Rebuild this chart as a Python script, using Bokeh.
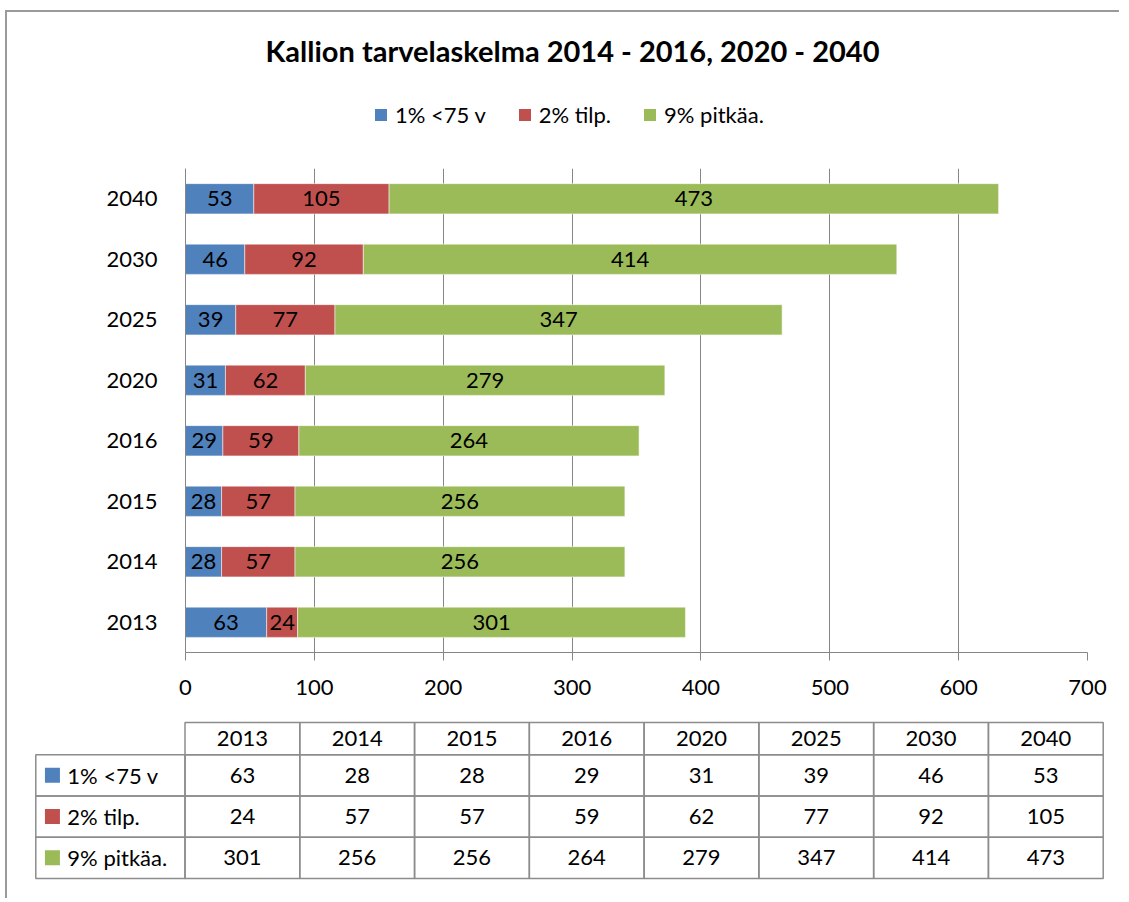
from bokeh.plotting import figure
from bokeh.models import (Range1d, FactorRange, Legend, LegendItem, ColumnDataSource, FixedTicker)
from bokeh.embed import file_html
from bokeh.resources import INLINE
from bokeh.core.properties import value
import numpy as np

# ---------------- data ----------------
years = ["2013", "2014", "2015", "2016", "2020", "2025", "2030", "2040"]
series_names = ["1% <75 v", "2% tilp.", "9% pitkäa."]
under75 = [63, 28, 28, 29, 31, 39, 46, 53]
tilp = [24, 57, 57, 59, 62, 77, 92, 105]
pitkaa = [301, 256, 256, 264, 279, 347, 414, 473]
x_ticks = [0, 100, 200, 300, 400, 500, 600, 700]
title_text = "Kallion tarvelaskelma 2014 - 2016, 2020 - 2040"

# ---------------- style ----------------
colors = ["#4F81BD", "#C0504D", "#9BBB59"]
FONT = "Lato"
GRID = "#868686"
TBL = "#8c8c8c"
BORDER = "2px solid #9a9a9a"
W = 1114

# ---------------- header: title + legend ----------------
h = figure(width=W, height=158, x_range=Range1d(0, 1), y_range=Range1d(0, 1),
           output_backend="svg", toolbar_location=None,
           x_axis_location=None, y_axis_location=None,
           min_border_left=0, min_border_right=0, min_border_top=55, min_border_bottom=0)
h.grid.visible = False
h.outline_line_color = None
h.title.text = title_text
h.title.text_font = FONT
h.title.text_font_size = "29px"
h.title.text_font_style = "bold"
h.title.text_color = "black"
h.title.align = "left"
h.title.offset = 258
h.title.standoff = 0

# legend keys (zero-length bars outside the visible range; only their style is used)
key_renderers = [h.hbar(y=[-1], left=[0], right=[0], height=0.5, fill_color=col, line_color=None)
                 for col in colors]
legend = Legend(items=[LegendItem(label=n, renderers=[r]) for n, r in zip(series_names, key_renderers)],
                orientation="horizontal", location=(366, 42), padding=0, margin=0,
                spacing=31, label_standoff=7, glyph_width=15, glyph_height=15,
                label_text_font=FONT, label_text_font_size="22px", label_text_color="black",
                border_line_color=None, background_fill_alpha=0)
h.add_layout(legend, "center")

# ---------------- chart ----------------
p = figure(width=W, height=544,
           y_range=FactorRange(factors=years, range_padding=0),
           x_range=Range1d(0, 700),
           output_backend="svg", toolbar_location=None,
           min_border_left=178, min_border_right=34,
           min_border_top=0, min_border_bottom=60)

src = ColumnDataSource(dict(year=years, a=under75, b=tilp, c=pitkaa))
rs = p.hbar_stack(["a", "b", "c"], y="year", height=0.5, source=src,
                  fill_color=colors, line_color="white", line_alpha=0.5, line_width=1)

a = np.array(under75, dtype=float)
b = np.array(tilp, dtype=float)
c = np.array(pitkaa, dtype=float)
vals = [a, b, c]
starts = [np.zeros(len(a)), a, a + b]
lab_x = np.concatenate([s + v / 2 for s, v in zip(starts, vals)])
lab_y = years * 3
lab_t = [str(int(v)) for v in np.concatenate(vals)]
p.text(x=lab_x, y=lab_y, text=lab_t, text_align="center", text_baseline="middle",
       text_font=value(FONT), text_font_size="22px", text_color="black")

p.xaxis.ticker = FixedTicker(ticks=x_ticks)
p.xaxis.axis_line_color = GRID
p.xaxis.major_tick_line_color = GRID
p.xaxis.major_tick_out = 8
p.xaxis.major_tick_in = 0
p.xaxis.minor_tick_line_color = None
p.xaxis.major_label_standoff = 19
p.yaxis.axis_line_color = GRID
p.yaxis.major_tick_line_color = None
p.yaxis.minor_tick_line_color = None
p.yaxis.major_label_standoff = 22
for ax in (p.xaxis, p.yaxis):
    ax.major_label_text_font = FONT
    ax.major_label_text_font_size = "22px"
    ax.major_label_text_color = "black"
p.xgrid.grid_line_color = GRID
p.ygrid.grid_line_color = None
p.outline_line_color = None

# ---------------- data table ----------------
LBL_W = 1.3
HEAD_H = 0.78
n = len(years)
t = figure(width=W, height=186, x_range=Range1d(-1.32, 8.02), y_range=Range1d(-0.05, 3.83),
           output_backend="svg", toolbar_location=None,
           x_axis_location=None, y_axis_location=None,
           min_border_left=26, min_border_right=16, min_border_top=8, min_border_bottom=18)
t.grid.visible = False
t.outline_line_color = None

cols = np.arange(n)
t.quad(left=cols, right=cols + 1, bottom=[3] * n, top=[3 + HEAD_H] * n,
       fill_color=None, line_color=TBL, line_width=1.5)
t.text(x=cols + 0.5, y=[3 + HEAD_H / 2] * n, text=years, text_align="center",
       text_baseline="middle", text_font=value(FONT), text_font_size="22px", text_color="black")

for i, (name, v) in enumerate(zip(series_names, [under75, tilp, pitkaa])):
    yb = 2 - i
    t.quad(left=np.concatenate([[-LBL_W], cols]), right=np.concatenate([[0], cols + 1]),
           bottom=[yb] * (n + 1), top=[yb + 1] * (n + 1),
           fill_color=None, line_color=TBL, line_width=1.5)
    t.text(x=cols + 0.5, y=[yb + 0.5] * n, text=[str(x) for x in v], text_align="center",
           text_baseline="middle", text_font=value(FONT), text_font_size="22px", text_color="black")
    t.rect(x=[-LBL_W + 0.145], y=[yb + 0.5], width=15, height=15, width_units="screen",
           height_units="screen", fill_color=colors[i], line_color=None)
    t.text(x=[-LBL_W + 0.275], y=[yb + 0.5], text=[name], text_align="left",
           text_baseline="middle", text_font=value(FONT), text_font_size="22px", text_color="black")

h.styles = {"margin-left": "5px", "border-left": BORDER, "margin-top": "10px", "border-top": BORDER}
p.styles = {"margin-left": "5px", "border-left": BORDER}
t.styles = {"margin-left": "5px", "border-left": BORDER}

open("out.html", "w").write(file_html([h, p, t], INLINE))
